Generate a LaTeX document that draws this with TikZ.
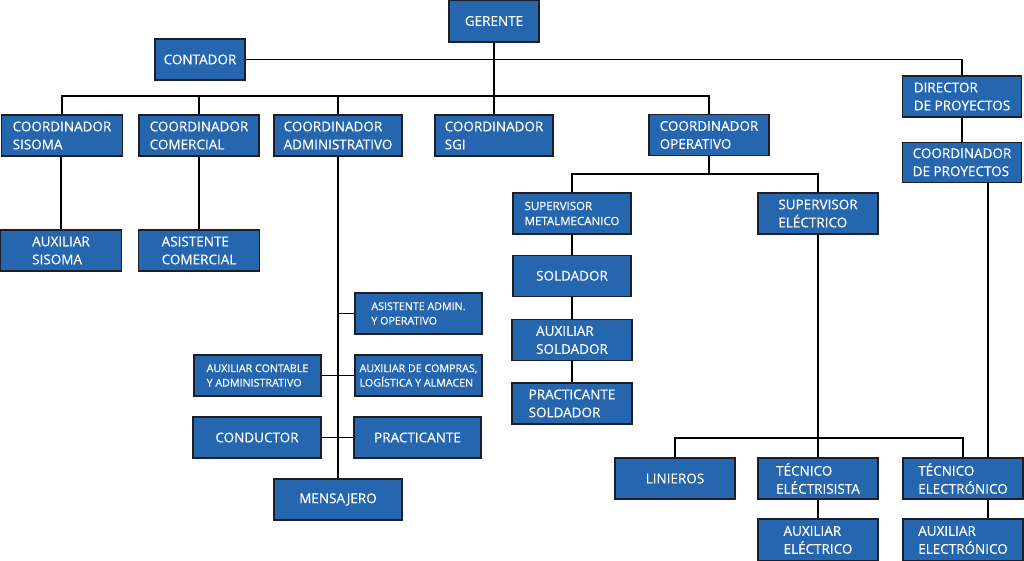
\documentclass[tikz,border=0pt]{standalone}
\usepackage{fontspec}
\setmainfont[FakeBold=0.5, AutoFakeBold=0.5]{Open Sans}
\usepackage{xcolor}
\usetikzlibrary{positioning}
\definecolor{orgblue}{RGB}{37,102,175}
\definecolor{orgedge}{RGB}{28,30,40}
\tikzset{
    box/.style={draw=orgedge, line width=1.3pt, fill=orgblue, text=white,
        inner sep=0pt, minimum height=41pt, minimum width=120pt, align=left,
        font=\fontsize{13.5}{18}\selectfont},
    smallbox/.style={box, font=\fontsize{10.7}{14.5}\selectfont},
    link/.style={line width=1.8pt, black}
}
\begin{document}
\begin{tikzpicture}[x=1pt, y=-1pt]
        \useasboundingbox (0,0) rectangle (1024,561);
        % top
        \node[box, minimum width=90pt, minimum height=42pt] (gerente) at (494,21) {GERENTE};
        \node[box, minimum width=90pt] (contador) at (200,59.5) {CONTADOR};
        \node[box, minimum width=119pt] (director) at (962,96.5) {DIRECTOR\\DE PROYECTOS};
        \node[box, minimum width=119pt, minimum height=40pt, below=24pt of director] (coordproy) {COORDINADOR\\DE PROYECTOS};
        \draw[link] (contador.east) -| (director.north);
        \draw[link] (director) -- (coordproy);
        % coordinators
        \node[box, minimum width=121pt] (sisoma) at (62,135.5) {COORDINADOR\\SISOMA};
        \node[box] (comercial) at (199,135.5) {COORDINADOR\\COMERCIAL};
        \node[box, minimum width=128pt] (admin) at (338,135.5) {COORDINADOR\\ADMINISTRATIVO};
        \node[box, minimum width=118pt] (sgi) at (494,135.5) {COORDINADOR\\SGI};
        \node[box] (operativo) at (709,135) {COORDINADOR\\OPERATIVO};
        \draw[link] (gerente) -- (sgi);
        \draw[link] (sisoma.north) -- ++(0,-18) -| (operativo.north);
        \draw[link] (comercial.north) -- ++(0,-18);
        \draw[link] (admin.north) -- ++(0,-18);
        % sisoma and comercial
        \node[box, minimum width=121pt] (auxsisoma) at (61,250.5) {AUXILIAR\\SISOMA};
        \node[box, minimum width=121pt] (asistcom) at (199,250.5) {ASISTENTE\\COMERCIAL};
        \draw[link] (sisoma.south -| auxsisoma) -- (auxsisoma);
        \draw[link] (comercial) -- (asistcom);
        % administrativo
        \node[box, minimum width=128pt] (mensajero) at (338,499.5) {MENSAJERO};
        \node[smallbox, minimum width=127pt] (asistadmin) at (418.5,313.5) {ASISTENTE ADMIN.\\Y OPERATIVO};
        \node[smallbox, minimum width=127pt] (contable) at (257.5,375.5) {AUXILIAR CONTABLE\\Y ADMINISTRATIVO};
        \node[smallbox, minimum width=127pt] (compras) at (418.5,375.5) {AUXILIAR DE COMPRAS,\\LOGÍSTICA Y ALMACEN};
        \node[box, minimum width=128pt] (conductor) at (257,437.5) {CONDUCTOR};
        \node[box, minimum width=127pt] (practicante) at (417.5,437.5) {PRACTICANTE};
        \draw[link] (admin) -- (mensajero);
        \draw[link] (asistadmin.west) -- (asistadmin.west -| admin.south);
        \draw[link] (contable.east) -- (compras.west);
        \draw[link] (conductor.east) -- (practicante.west);
        % operativo
        \coordinate (opbus) at (709,174);
        \node[smallbox, minimum width=118pt, font=\fontsize{11.5}{15}\selectfont] (supmetal) at (572,213.5) {SUPERVISOR\\METALMECANICO};
        \node[box] (supelec) at (818,213.5) {SUPERVISOR\\ELÉCTRICO};
        \draw[link] (operativo) -- (opbus);
        \draw[link] (supmetal.north) |- (opbus) -| (supelec.north);
        \node[box, minimum width=118pt, below=20pt of supmetal] (soldador) {SOLDADOR};
        \node[box, below=22pt of soldador] (auxsold) {AUXILIAR\\SOLDADOR};
        \node[box, below=21pt of auxsold] (practsold) {PRACTICANTE\\SOLDADOR};
        \draw[link] (supmetal) -- (soldador);
        \draw[link] (soldador) -- (auxsold);
        \draw[link] (auxsold) -- (practsold);
        % electrico
        \node[box] (linieros) at (675,478.5) {LINIEROS};
        \node[box] (tecelec) at (818,478.5) {TÉCNICO\\ELÉCTRISISTA};
        \node[box] (tecelectron) at (963,478.5) {TÉCNICO\\ELECTRÓNICO};
        \node[box, minimum height=42pt] (auxelec) at (818,540) {AUXILIAR\\ELÉCTRICO};
        \node[box, minimum height=42pt] (auxelectron) at (963,540) {AUXILIAR\\ELECTRÓNICO};
        \coordinate (elbus) at (818,438);
        \draw[link] (supelec) -- (tecelec);
        \draw[link] (linieros.north) |- (elbus) -| (tecelectron.north);
        \draw[link] (tecelec) -- (auxelec);
        \draw[link] ([xshift=25pt]tecelectron.north |- coordproy.south) -- ([xshift=25pt]tecelectron.north);
        \draw[link] ([xshift=25pt]tecelectron.south) -- ([xshift=25pt]auxelectron.north);
\end{tikzpicture}
\end{document}
